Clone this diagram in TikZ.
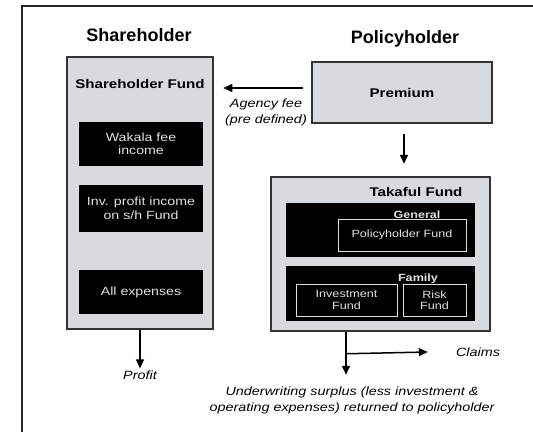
\documentclass[tikz,border=0pt]{standalone}
\usepackage{fontspec}
\setmainfont{Liberation Sans}
\newfontfamily\widesans{Liberation Sans}[FakeStretch=1.2]
\usetikzlibrary{positioning, arrows.meta}
\definecolor{fundgray}{RGB}{216,219,222}
\definecolor{boxtext}{RGB}{225,225,225}

\begin{document}
\begin{tikzpicture}[x=1pt, y=-1pt,
    fundbox/.style={draw=black!80, line width=1.5pt, fill=fundgray, inner sep=0pt},
    blackbox/.style={fill=black, text=boxtext, align=center, inner sep=0pt,
        font=\widesans\fontsize{11.8}{13.5}\selectfont},
    fundline/.style={draw=boxtext, line width=0.9pt, text=boxtext, align=center, inner sep=0pt,
        font=\widesans\fontsize{10.5}{11.5}\selectfont},
    heading/.style={font=\fontsize{18}{21}\selectfont\bfseries},
    boldlabel/.style={font=\widesans\fontsize{12.6}{14}\selectfont\bfseries},
    note/.style={align=center, inner sep=2pt, font=\widesans\fontsize{12}{16}\selectfont\itshape},
    arr/.style={-{Triangle[length=9pt,width=8pt]}, line width=1.5pt}]

        \useasboundingbox (0,0) rectangle (533,432);
        \fill[white] (0,0) rectangle (533,432);
        \draw[line width=1.5pt, black!85] (22,432) -- (22,6) -- (533,6);

        % Nodes
        \node[heading] (shtitle) at (139,35) {Shareholder};
        \node[heading] (phtitle) at (405,39) {Policyholder};

        \node[fundbox, minimum width=146pt, minimum height=272pt] (shbox) at (140,193) {};
        \node[boldlabel] (shfund) at (140,84) {Shareholder Fund};
        \node[blackbox, minimum width=124pt, minimum height=44pt] (wakala) at (141,144) {Wakala fee\\income};
        \node[blackbox, minimum width=124pt, minimum height=47pt] (invprofit) at (141,208.5) {Inv. profit income\\on s/h Fund};
        \node[blackbox, minimum width=124pt, minimum height=44pt] (expenses) at (141,292) {All expenses};
        \node[note] (profit) at (140,375) {Profit};

        \node[fundbox, boldlabel, minimum width=180pt, minimum height=61pt] (premium) at (402,92.5) {Premium};
        \node[note] (agency) at (266,112) {Agency fee\\(pre defined)};

        \node[fundbox, minimum width=219pt, minimum height=154pt] (takaful) at (380.5,254) {};
        \node[boldlabel] (takfund) at (416,192) {Takaful Fund};
        \node[blackbox, minimum width=189pt, minimum height=54pt] (general) at (380.5,230) {};
        \node[fundline, minimum width=128pt, minimum height=32pt] (phfund) at (402,235) {Policyholder Fund};
        \node[boldlabel, text=boxtext, font=\widesans\fontsize{10.5}{12}\selectfont\bfseries] (genlabel) at (417,214.5) {General};
        \node[blackbox, minimum width=189pt, minimum height=55pt] (family) at (380.5,293.5) {};
        \node[fundline, minimum width=101pt, minimum height=32pt] (invfund) at (346.5,300) {Investment\\Fund};
        \node[fundline, minimum width=63pt, minimum height=32pt] (riskfund) at (434.5,300) {Risk\\Fund};
        \node[boldlabel, text=boxtext, font=\widesans\fontsize{10.5}{12}\selectfont\bfseries] (famlabel) at (418,279) {Family};

        \node[note] (claims) at (478,352) {Claims};
        \node[note] (surplus) at (352,400) {Underwriting surplus (less investment \&\\operating expenses) returned to policyholder};
        \coordinate (split) at ([shift={(-34.5,22)}]takaful.south);

        % Edges
        \draw[arr] ([shift={(-8,-4.5)}]premium.west) -- ++(-80,0);
        \draw[arr] ([shift={(2,10)}]premium.south) -- ++(0,30);
        \draw[arr] (shbox.south) -- (profit.north);
        \draw[arr] ([xshift=-34.5pt]takaful.south) -- ++(0,43);
        \draw[arr] ([xshift=0.75pt]split) -- ([xshift=-26pt]claims.west);

        \end{tikzpicture}
\end{document}
